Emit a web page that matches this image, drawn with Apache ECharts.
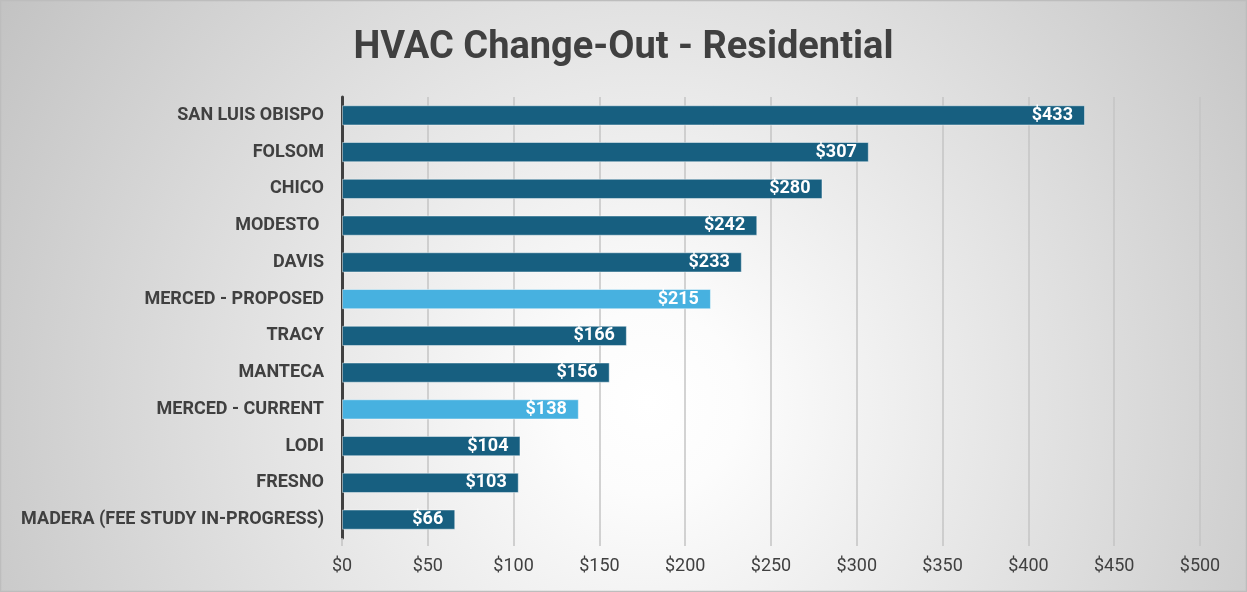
<!DOCTYPE html>
<html lang="en">
<head>
	<meta charset="UTF-8">
	<title>HVAC Change-Out - Residential</title>
	<style>
		html,body{margin:0;padding:0;}
		#main{width:1247px;height:592px;}
	</style>
</head>
<body>
	<div id="main"></div>
	<script src="https://cdn.jsdelivr.net/npm/echarts@6/dist/echarts.min.js"></script>
	<script>
		// top to bottom
		var cities = ['SAN LUIS OBISPO','FOLSOM','CHICO','MODESTO ','DAVIS','MERCED - PROPOSED','TRACY','MANTECA','MERCED - CURRENT','LODI','FRESNO','MADERA (FEE STUDY IN-PROGRESS)'];
		var fees = [433,307,280,242,233,215,166,156,138,104,103,66];
		var mercedFlag = [0,0,0,0,0,1,0,0,1,0,0,0];
		var xTicks = [0,50,100,150,200,250,300,350,400,450,500];

		var darkBlue = '#175f80';
		var lightBlue = '#47b1e0';

		var barData = [];
		for(var i=0;i<fees.length;i++){
			barData.push({
				value: fees[i],
				itemStyle: {color: mercedFlag[i] ? lightBlue : darkBlue}
			});
		}

		var myChart = echarts.init(document.getElementById('main'));
		var option = {
			backgroundColor: {
				type: 'radial', x: 0.52, y: 0.68, r: 1.3,
				colorStops: [
					{offset: 0, color: '#ffffff'},
					{offset: 0.12, color: '#fcfcfc'},
					{offset: 1, color: '#c2c2c2'}
				]
			},
			graphic: [{
				type: 'rect',
				shape: {x: 0.5, y: 0.5, width: 1246, height: 591},
				style: {fill: 'none', stroke: '#bdbdbd', lineWidth: 1.5},
				silent: true
			}],
			title: {
				text: 'HVAC Change-Out - Residential',
				left: 'center',
				top: 24,
				textStyle: {
					fontFamily: 'Roboto',
					fontWeight: 'bold',
					fontSize: 38,
					color: '#404040'
				}
			},
			grid: {left: 342, right: 47, top: 97, bottom: 54},
			xAxis: {
				type: 'value',
				min: xTicks[0],
				max: xTicks[xTicks.length-1],
				interval: 50,
				axisLine: {show: false},
				axisTick: {show: true, length: 8, lineStyle: {color: '#c4c4c4', width: 1.5}},
				splitLine: {show: true, lineStyle: {color: '#c4c4c4', width: 1.5}},
				axisLabel: {
					margin: 19,
					fontFamily: 'Roboto',
					fontSize: 18,
					color: '#404040',
					formatter: function(v){ return '$' + v; }
				}
			},
			yAxis: {
				type: 'category',
				data: cities,
				inverse: true,
				axisLine: {show: true, lineStyle: {color: '#404040', width: 3}},
				axisTick: {show: false},
				axisLabel: {
					margin: 18,
					fontFamily: 'Roboto',
					fontWeight: 'bold',
					fontSize: 18,
					color: '#404040'
				}
			},
			series: [{
				type: 'bar',
				data: barData,
				barWidth: '55%',
				itemStyle: {borderColor: 'rgba(255,255,255,0.45)', borderWidth: 1},
				label: {
					show: true,
					position: 'insideRight',
					distance: 12,
					fontFamily: 'Roboto',
					fontWeight: 'bold',
					fontSize: 18,
					color: '#ffffff',
					formatter: function(p){ return '$' + p.value; }
				}
			}]
		};
		myChart.setOption(option);
	</script>
</body>
</html>
